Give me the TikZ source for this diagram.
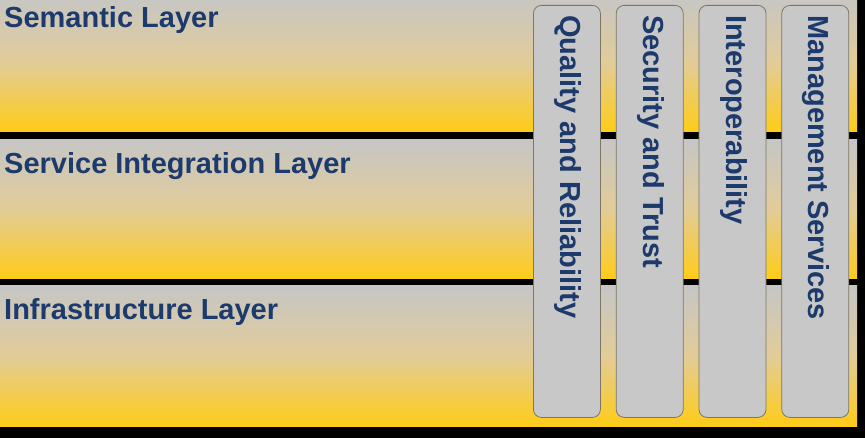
\documentclass[tikz,border=0pt]{standalone}
\usepackage{fontspec}
\setmainfont{Liberation Sans}
\usetikzlibrary{positioning}
\definecolor{inkblue}{RGB}{28,58,108}
\definecolor{layergray}{RGB}{198,198,198}
\definecolor{layerbeige}{RGB}{226,204,152}
\definecolor{layeryellow}{RGB}{255,204,24}
\definecolor{pillargray}{RGB}{200,200,200}
\definecolor{pillaredge}{RGB}{125,118,100}

\tikzset{
  layerbox/.style={rectangle,inner sep=0pt,minimum width=857pt,minimum height=139pt,
    anchor=north west,top color=layergray,bottom color=layeryellow,middle color=layerbeige},
  layerlabel/.style={font=\fontsize{29}{31}\selectfont\bfseries,text=inkblue,
    inner sep=0pt,anchor=base west},
  pillar/.style={rectangle,rounded corners=8pt,fill=pillargray,draw=pillaredge,
    line width=0.8pt,minimum width=67pt,minimum height=412pt,anchor=north west},
  pillarlabel/.style={font=\fontsize{29}{31}\selectfont\bfseries,text=inkblue,
    inner sep=0pt,yshift=-10pt,xshift=1pt,rotate=-90,anchor=west}
}

\begin{document}
\begin{tikzpicture}[x=1pt,y=-1pt]
\fill[black] (0,0) rectangle (865,438);
\useasboundingbox (0,0) rectangle (865,438);

% the three layers
\node[layerbox,minimum height=137pt] (semantic) at (0,-6) {};
\node[layerbox,below=8pt of semantic] (service) {};
\node[layerbox,below=7pt of service,minimum height=140pt] (infra) {};

\node[layerlabel,xshift=4pt,yshift=-34pt] (semanticlbl) at (semantic.north west) {Semantic Layer};
\node[layerlabel,xshift=4pt,yshift=-34pt] (servicelbl) at (service.north west) {Service Integration Layer};
\node[layerlabel,xshift=4pt,yshift=-34pt] (infralbl) at (infra.north west) {Infrastructure Layer};

% vertical pillars
\node[pillar] (quality) at (533,5) {};
\node[pillar,right=15pt of quality] (security) {};
\node[pillar,right=15pt of security] (interop) {};
\node[pillar,right=15pt of interop] (mgmt) {};

\node[pillarlabel] (qualitylbl) at (quality.north) {Quality and Reliability};
\node[pillarlabel] (securitylbl) at (security.north) {Security and Trust};
\node[pillarlabel] (interoplbl) at (interop.north) {Interoperability};
\node[pillarlabel] (mgmtlbl) at (mgmt.north) {Management Services};
\end{tikzpicture}
\end{document}
